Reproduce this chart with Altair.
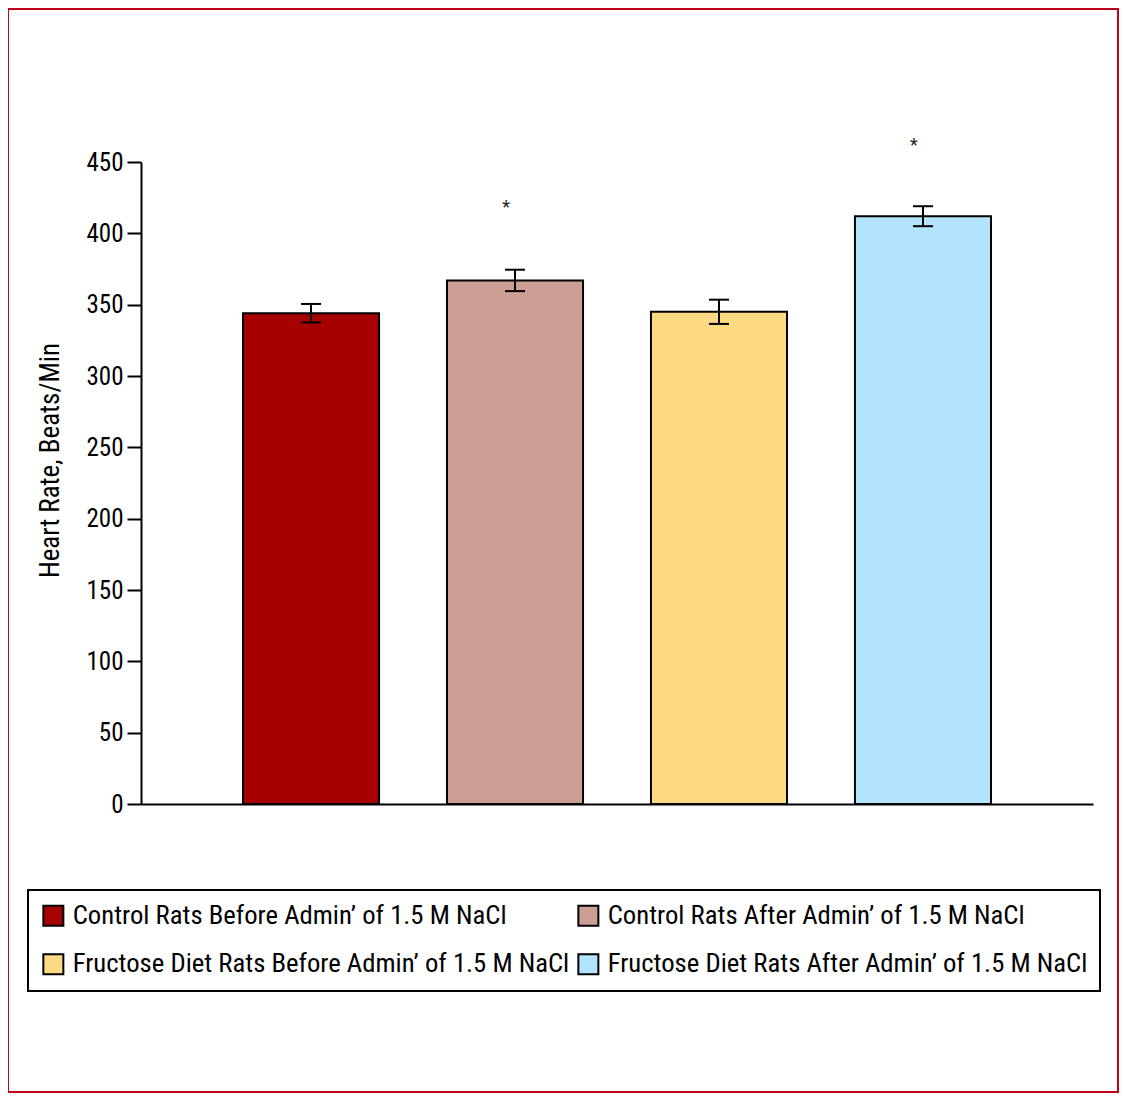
import altair as alt
import pandas as pd

groups = [
    "Control Rats Before Admin\u2019 of 1.5 M NaCl",
    "Control Rats After Admin\u2019 of 1.5 M NaCl",
    "Fructose Diet Rats Before Admin\u2019 of 1.5 M NaCl",
    "Fructose Diet Rats After Admin\u2019 of 1.5 M NaCl",
]
means = [344, 367, 345, 412]
sems = [6.5, 7.5, 8.5, 7]
colors = ["#A60000", "#CC9E94", "#FDD983", "#B3E4FD"]
star_groups = [groups[1], groups[3]]
star_y = [420, 463]

FONT = "Liberation Sans Narrow, Roboto Condensed, DejaVu Sans Condensed, Liberation Sans, sans-serif"

df = pd.DataFrame({
    "group": groups,
    "mean": means,
    "lo": [m - s for m, s in zip(means, sems)],
    "hi": [m + s for m, s in zip(means, sems)],
})
stars = pd.DataFrame({"group": star_groups, "y": star_y, "t": ["*"] * len(star_groups)})

xscale = alt.Scale(domain=groups, paddingInner=0.333, paddingOuter=0.5)
x = alt.X("group:N", scale=xscale, sort=groups,
          axis=alt.Axis(labels=False, ticks=False, title=None, domainColor="black", domainWidth=2))
yscale = alt.Scale(domain=[0, 450], nice=False)

bars = alt.Chart(df).mark_bar(stroke="black", strokeWidth=2, opacity=1).encode(
    x=x,
    y=alt.Y("mean:Q", scale=yscale,
            axis=alt.Axis(values=list(range(0, 451, 50)), title="Heart Rate, Beats/Min",
                          grid=False, domainColor="black", domainWidth=2, tickColor="black",
                          tickWidth=2, tickSize=14, labelFontSize=25, labelFont=FONT, labelColor="black",
                          labelPadding=4, titleFont=FONT, titleFontSize=27, titleFontWeight="normal",
                          titleColor="black", titleX=-77, titleY=298, titleAngle=270)),
    fill=alt.Fill("group:N", scale=alt.Scale(domain=groups, range=colors),
                  legend=alt.Legend(orient="none", legendX=-113, legendY=728, direction="horizontal",
                                    columns=2, title=None, symbolType="square", symbolSize=400,
                                    symbolStrokeColor="black", symbolStrokeWidth=2, symbolOpacity=1,
                                    labelFontSize=26.7, labelFont=FONT, labelColor="black",
                                    padding=12, strokeColor="black",
                                    rowPadding=20, columnPadding=4, labelOffset=6, labelLimit=0)),
)

rules = alt.Chart(df).mark_rule(color="black", strokeWidth=2).encode(
    x=alt.X("group:N", scale=xscale, sort=groups), y=alt.Y("lo:Q", scale=yscale), y2="hi:Q")
caps_lo = alt.Chart(df).mark_tick(color="black", thickness=2, size=20, opacity=1).encode(
    x=alt.X("group:N", scale=xscale, sort=groups), y=alt.Y("lo:Q", scale=yscale))
caps_hi = alt.Chart(df).mark_tick(color="black", thickness=2, size=20, opacity=1).encode(
    x=alt.X("group:N", scale=xscale, sort=groups), y=alt.Y("hi:Q", scale=yscale))

star_text = alt.Chart(stars).mark_text(fontSize=18, font=FONT, color="#222222", dx=-9, dy=3,
                                       baseline="middle").encode(
    x=alt.X("group:N", scale=xscale, sort=groups), y=alt.Y("y:Q", scale=yscale), text="t:N")

frame = alt.Chart(pd.DataFrame({"k": [0]})).mark_rect(fill=None, stroke="#C00018", strokeWidth=2).encode(
    x=alt.value(-133), x2=alt.value(977), y=alt.value(-153), y2=alt.value(930))

chart = alt.layer(frame, bars, rules, caps_lo, caps_hi, star_text).properties(
    width=952, height=642,
    background="white",
    autosize=alt.AutoSizeParams(type="none"),
    padding={"left": 133, "top": 154, "right": 26, "bottom": 290},
).configure_view(strokeWidth=0).configure_legend(strokeWidth=2)

chart.save("out.html", embed_options={"renderer": "svg", "actions": False})
